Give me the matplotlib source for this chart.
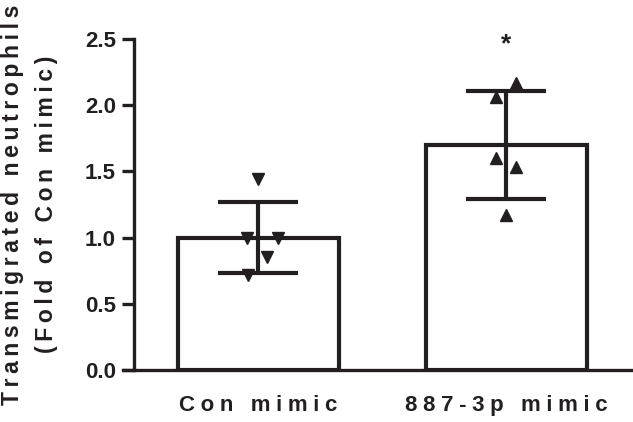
import matplotlib.pyplot as plt
import numpy as np

# === DATA ===
groups = ['Con mimic', '887-3p mimic']
means = [1.0, 1.70]
sds = [0.27, 0.41]
con_pts = [1.44, 1.00, 1.00, 0.855, 0.72]
mir_pts = [2.17, 2.06, 1.60, 1.53, 1.17]
con_jit = [0.0, -0.045, 0.08, 0.035, -0.04]
mir_jit = [0.04, -0.04, -0.04, 0.04, 0.0]
yticks = [0, 0.5, 1.0, 1.5, 2.0, 2.5]
ytick_labels = ['0.0', '0.5', '1.0', '1.5', '2.0', '2.5']
ylabel_lines = ['Transmigrated neutrophils', '(Fold of Con mimic)']

INK = '#231f20'


def spaced(s, gap):
    # wide letter tracking like the original figure
    return gap.join(s)


plt.rcParams['font.family'] = ['Liberation Sans', 'DejaVu Sans']
plt.rcParams['font.weight'] = 'bold'

fig = plt.figure(figsize=(6.33, 4.22), dpi=100)
ax = fig.add_axes([0.2117, 0.1232, 0.7883, 0.7844])

x = np.arange(len(groups))
ax.bar(x, means, width=0.648, color='white', edgecolor=INK, linewidth=3.0, zorder=1)
ax.errorbar(x, means, yerr=sds, fmt='none', ecolor=INK, elinewidth=3.0,
            capsize=29, capthick=3.0, zorder=3)

ax.plot(x[0] + np.array(con_jit), con_pts, linestyle='none', marker='v',
        markersize=9, color=INK, zorder=4)
ax.plot(x[1] + np.array(mir_jit), mir_pts, linestyle='none', marker='^',
        markersize=9, color=INK, zorder=4)

ax.text(x[1], 2.46, '*', ha='center', va='center', fontsize=19, fontweight='bold', color=INK)

ax.set_xlim(-0.50, 1.51)
ax.set_ylim(0, 2.5)
ax.set_yticks(yticks)
ax.set_yticklabels(ytick_labels)
ax.set_xticks(x)
ax.set_xticklabels([spaced(g, '\u2005') for g in groups])

for s in ['top', 'right']:
    ax.spines[s].set_visible(False)
for s in ['left', 'bottom']:
    ax.spines[s].set_linewidth(2.4)
    ax.spines[s].set_color(INK)
ax.spines['bottom'].set_bounds(-0.545, 1.51)

ax.tick_params(axis='y', length=9, width=2.4, color=INK, labelsize=16, pad=4, labelcolor=INK)
ax.tick_params(axis='x', length=0, labelsize=16, pad=18, labelcolor=INK)

ax.set_ylabel('\n'.join(spaced(l, '\u2009') for l in ylabel_lines), fontsize=16.5,
              fontweight='bold', color=INK, linespacing=1.6)
ax.yaxis.label.set_va('center')
ax.yaxis.set_label_coords(-0.21, 0.5)

fig.savefig('out.png', dpi=100)
